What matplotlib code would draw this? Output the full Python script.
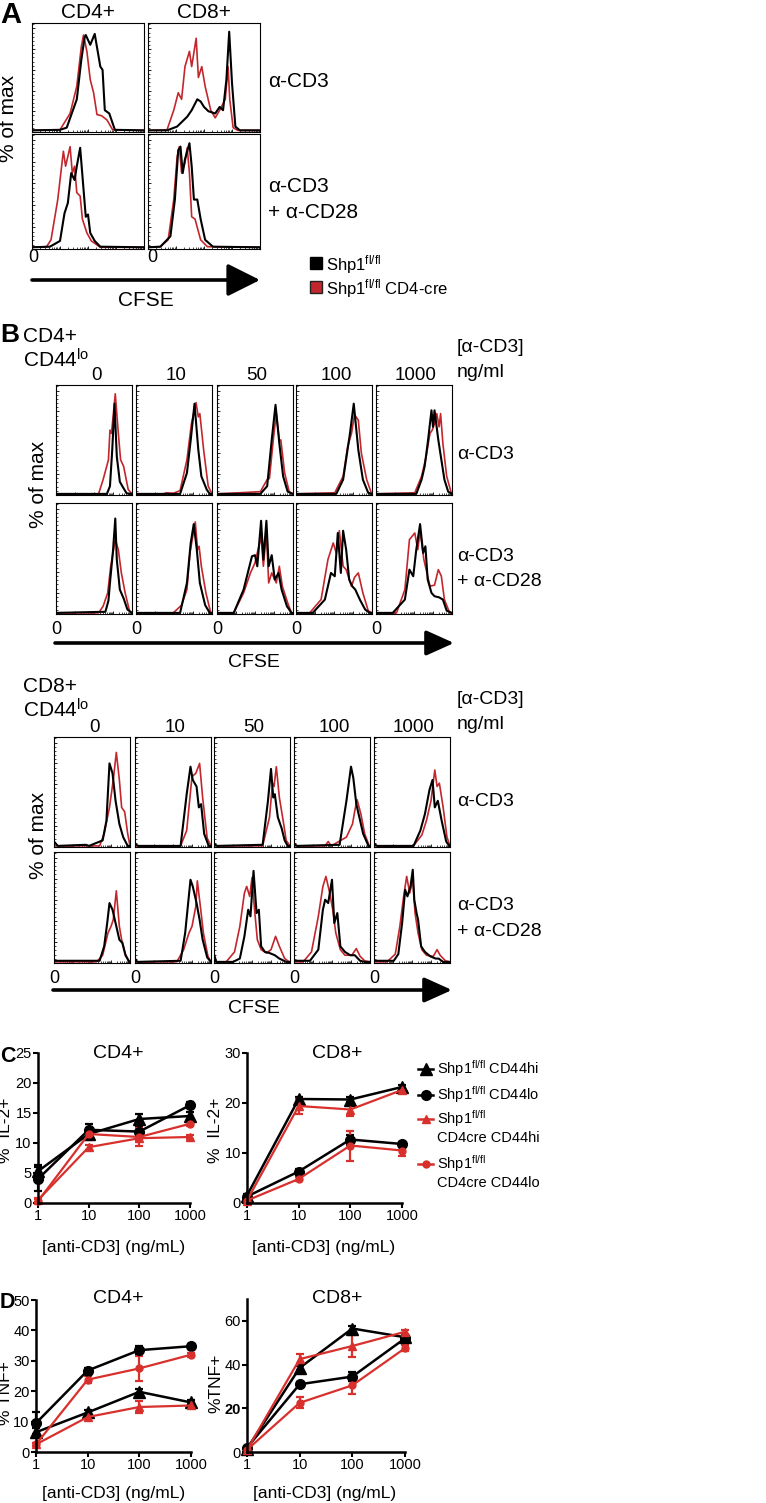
import matplotlib
matplotlib.use('Agg')
import matplotlib.pyplot as plt
from matplotlib.ticker import NullLocator, FixedLocator
from matplotlib.patches import Rectangle
from matplotlib.lines import Line2D
import numpy as np

NARROW = ['Liberation Sans', 'DejaVu Sans']
REG = ['Liberation Sans', 'DejaVu Sans']
plt.rcParams['font.family'] = NARROW
plt.rcParams['mathtext.default'] = 'regular'

W, H = 766, 1503
RED_H = '#c2272d'
RED_L = '#d8302c'

# ---------------- data: histograms (x = CFSE axis fraction, y = % of max fraction) -------------
# Panel A, order: CD4 a-CD3, CD8 a-CD3, CD4 a-CD3+a-CD28, CD8 a-CD3+a-CD28
A_black = [
    [(0,0.015),(0.25,0.02),(0.31,0.04),(0.40,0.30),(0.44,0.66),(0.47,0.87),(0.48,0.89),(0.52,0.80),(0.56,0.90),(0.61,0.60),(0.63,0.57),(0.65,0.20),(0.69,0.17),(0.74,0.02),(1,0.015)],
    [(0,0.015),(0.17,0.015),(0.26,0.05),(0.35,0.14),(0.39,0.20),(0.44,0.30),(0.47,0.28),(0.50,0.23),(0.54,0.19),(0.60,0.17),(0.64,0.23),(0.67,0.20),(0.70,0.48),(0.725,0.92),(0.75,0.45),(0.78,0.05),(0.82,0.015),(1,0.015)],
    [(0,0.015),(0.16,0.02),(0.25,0.07),(0.29,0.31),(0.32,0.40),(0.35,0.66),(0.38,0.60),(0.40,0.72),(0.43,0.88),(0.46,0.52),(0.48,0.28),(0.50,0.30),(0.52,0.14),(0.56,0.07),(0.61,0.02),(1,0.015)],
    [(0,0.015),(0.11,0.02),(0.20,0.11),(0.24,0.43),(0.27,0.86),(0.29,0.89),(0.31,0.66),(0.33,0.78),(0.37,0.92),(0.39,0.72),(0.41,0.43),(0.44,0.43),(0.47,0.26),(0.51,0.08),(0.58,0.02),(1,0.015)],
]
A_red = [
    [(0,0.015),(0.25,0.02),(0.34,0.17),(0.40,0.42),(0.44,0.78),(0.46,0.89),(0.49,0.74),(0.52,0.48),(0.55,0.36),(0.58,0.16),(0.62,0.15),(0.67,0.11),(0.72,0.02),(1,0.015)],
    [(0,0.015),(0.17,0.02),(0.23,0.20),(0.27,0.36),(0.30,0.30),(0.33,0.60),(0.37,0.74),(0.39,0.60),(0.43,0.86),(0.45,0.50),(0.48,0.60),(0.51,0.42),(0.56,0.20),(0.60,0.13),(0.64,0.20),(0.69,0.30),(0.715,0.60),(0.73,0.30),(0.76,0.04),(0.80,0.015),(1,0.015)],
    [(0,0.015),(0.13,0.02),(0.17,0.08),(0.23,0.43),(0.28,0.85),(0.30,0.72),(0.34,0.89),(0.36,0.66),(0.38,0.72),(0.40,0.49),(0.43,0.46),(0.45,0.26),(0.49,0.14),(0.53,0.07),(0.61,0.015),(1,0.015)],
    [(0,0.015),(0.11,0.02),(0.18,0.08),(0.23,0.43),(0.26,0.80),(0.28,0.89),(0.30,0.66),(0.33,0.75),(0.35,0.88),(0.37,0.66),(0.39,0.28),(0.42,0.26),(0.47,0.08),(0.53,0.02),(1,0.015)],
]

# Panel B CD4+ CD44lo, row-major: a-CD3 (0,10,50,100,1000), then a-CD3+a-CD28
B4_black = [
    [(0,0.01),(0.67,0.01),(0.71,0.08),(0.74,0.41),(0.77,0.83),(0.80,0.35),(0.84,0.12),(0.89,0.06),(0.93,0.015),(1,0.01)],
    [(0,0.01),(0.58,0.01),(0.67,0.20),(0.72,0.50),(0.77,0.83),(0.82,0.41),(0.86,0.17),(0.93,0.05),(0.97,0.01),(1,0.01)],
    [(0,0.01),(0.57,0.01),(0.66,0.08),(0.72,0.50),(0.77,0.82),(0.82,0.47),(0.87,0.17),(0.93,0.03),(1,0.01)],
    [(0,0.01),(0.53,0.01),(0.62,0.14),(0.71,0.56),(0.76,0.83),(0.82,0.41),(0.88,0.14),(0.95,0.02),(1,0.01)],
    [(0,0.01),(0.53,0.01),(0.60,0.14),(0.64,0.26),(0.68,0.47),(0.73,0.77),(0.75,0.62),(0.77,0.77),(0.82,0.50),(0.86,0.32),(0.90,0.14),(0.95,0.03),(1,0.01)],
    [(0,0.01),(0.65,0.02),(0.69,0.12),(0.71,0.28),(0.75,0.57),(0.78,0.86),(0.80,0.49),(0.84,0.22),(0.89,0.14),(0.94,0.04),(1,0.01)],
    [(0,0.01),(0.58,0.01),(0.67,0.28),(0.72,0.64),(0.76,0.81),(0.80,0.58),(0.84,0.28),(0.91,0.08),(0.97,0.01),(1,0.01)],
    [(0,0.01),(0.22,0.01),(0.35,0.22),(0.46,0.52),(0.50,0.53),(0.53,0.43),(0.58,0.84),(0.61,0.49),(0.65,0.84),(0.68,0.43),(0.72,0.53),(0.76,0.31),(0.81,0.37),(0.85,0.22),(0.92,0.07),(0.98,0.01),(1,0.01)],
    [(0,0.01),(0.22,0.01),(0.38,0.13),(0.46,0.37),(0.51,0.34),(0.55,0.73),(0.59,0.37),(0.62,0.75),(0.66,0.58),(0.70,0.31),(0.74,0.25),(0.78,0.22),(0.84,0.13),(0.91,0.04),(0.97,0.01),(1,0.01)],
    [(0,0.01),(0.22,0.01),(0.38,0.13),(0.44,0.40),(0.49,0.34),(0.53,0.58),(0.58,0.81),(0.62,0.55),(0.65,0.61),(0.68,0.31),(0.73,0.19),(0.77,0.16),(0.83,0.15),(0.88,0.13),(0.93,0.03),(1,0.01)],
]
B4_red = [
    [(0,0.01),(0.56,0.01),(0.62,0.14),(0.69,0.32),(0.71,0.59),(0.73,0.56),(0.78,0.92),(0.82,0.56),(0.85,0.32),(0.89,0.26),(0.95,0.05),(1,0.01)],
    [(0,0.01),(0.36,0.01),(0.40,0.02),(0.49,0.015),(0.58,0.04),(0.67,0.32),(0.73,0.65),(0.79,0.84),(0.82,0.71),(0.84,0.74),(0.89,0.41),(0.95,0.08),(1,0.01)],
    [(0,0.01),(0.57,0.03),(0.66,0.14),(0.69,0.15),(0.74,0.50),(0.78,0.74),(0.82,0.50),(0.84,0.50),(0.89,0.20),(0.95,0.03),(1,0.01)],
    [(0,0.01),(0.51,0.02),(0.62,0.17),(0.68,0.44),(0.73,0.56),(0.77,0.73),(0.82,0.68),(0.86,0.38),(0.93,0.14),(0.99,0.02),(1,0.01)],
    [(0,0.01),(0.51,0.02),(0.60,0.17),(0.66,0.35),(0.71,0.56),(0.74,0.59),(0.77,0.65),(0.80,0.74),(0.83,0.62),(0.85,0.74),(0.88,0.47),(0.93,0.17),(0.99,0.02),(1,0.01)],
    [(0,0.01),(0.56,0.01),(0.62,0.07),(0.68,0.19),(0.72,0.43),(0.78,0.67),(0.82,0.58),(0.86,0.37),(0.91,0.19),(0.97,0.02),(1,0.01)],
    [(0,0.01),(0.49,0.01),(0.60,0.08),(0.67,0.22),(0.71,0.55),(0.78,0.83),(0.81,0.58),(0.83,0.61),(0.86,0.43),(0.92,0.19),(0.98,0.02),(1,0.01)],
    [(0,0.01),(0.22,0.01),(0.35,0.19),(0.44,0.37),(0.50,0.46),(0.55,0.61),(0.58,0.70),(0.61,0.43),(0.65,0.73),(0.68,0.28),(0.72,0.37),(0.78,0.28),(0.82,0.43),(0.86,0.25),(0.93,0.10),(0.98,0.01),(1,0.01)],
    [(0,0.01),(0.18,0.01),(0.33,0.13),(0.42,0.49),(0.49,0.64),(0.53,0.55),(0.57,0.75),(0.62,0.43),(0.66,0.40),(0.73,0.25),(0.77,0.33),(0.82,0.37),(0.88,0.19),(0.95,0.03),(1,0.01)],
    [(0,0.01),(0.27,0.01),(0.38,0.22),(0.44,0.67),(0.51,0.73),(0.55,0.58),(0.58,0.75),(0.63,0.49),(0.67,0.37),(0.71,0.25),(0.77,0.26),(0.82,0.40),(0.86,0.34),(0.90,0.13),(0.97,0.01),(1,0.01)],
]

# Panel B CD8+ CD44lo
B8_black = [
    [(0,0.05),(0.05,0.01),(0.42,0.02),(0.46,0.01),(0.64,0.06),(0.69,0.24),(0.73,0.76),(0.77,0.67),(0.81,0.42),(0.86,0.21),(0.91,0.09),(0.97,0.01),(1,0.01)],
    [(0,0.03),(0.04,0.01),(0.60,0.01),(0.68,0.48),(0.73,0.73),(0.76,0.61),(0.81,0.55),(0.84,0.36),(0.87,0.39),(0.91,0.12),(0.97,0.01),(1,0.01)],
    [(0,0.03),(0.04,0.01),(0.64,0.02),(0.71,0.42),(0.75,0.71),(0.78,0.45),(0.80,0.48),(0.84,0.27),(0.89,0.17),(0.93,0.06),(0.97,0.01),(1,0.01)],
    [(0,0.03),(0.04,0.01),(0.60,0.02),(0.69,0.42),(0.75,0.73),(0.78,0.63),(0.82,0.39),(0.86,0.27),(0.91,0.12),(0.98,0.01),(1,0.01)],
    [(0,0.03),(0.04,0.01),(0.52,0.01),(0.61,0.15),(0.67,0.30),(0.73,0.52),(0.77,0.61),(0.80,0.36),(0.84,0.42),(0.89,0.24),(0.95,0.05),(0.99,0.01),(1,0.01)],
    [(0,0.02),(0.60,0.02),(0.66,0.15),(0.70,0.36),(0.73,0.54),(0.77,0.48),(0.82,0.33),(0.86,0.21),(0.90,0.18),(0.94,0.07),(0.99,0.01),(1,0.01)],
    [(0,0.04),(0.03,0.01),(0.60,0.02),(0.66,0.27),(0.73,0.75),(0.76,0.69),(0.81,0.54),(0.85,0.39),(0.89,0.21),(0.95,0.05),(1,0.01)],
    [(0,0.08),(0.03,0.01),(0.25,0.01),(0.34,0.04),(0.40,0.24),(0.45,0.48),(0.48,0.42),(0.52,0.83),(0.56,0.45),(0.59,0.48),(0.62,0.15),(0.67,0.10),(0.73,0.09),(0.80,0.07),(0.86,0.04),(0.95,0.01),(1,0.01)],
    [(0,0.02),(0.21,0.02),(0.32,0.12),(0.38,0.48),(0.41,0.57),(0.45,0.54),(0.50,0.75),(0.53,0.36),(0.57,0.45),(0.61,0.15),(0.67,0.10),(0.74,0.07),(0.80,0.07),(0.87,0.02),(0.93,0.01),(1,0.01)],
    [(0,0.02),(0.26,0.02),(0.32,0.08),(0.37,0.36),(0.41,0.66),(0.44,0.60),(0.48,0.69),(0.51,0.84),(0.53,0.57),(0.56,0.45),(0.58,0.39),(0.62,0.15),(0.67,0.10),(0.74,0.06),(0.81,0.04),(0.85,0.04),(0.91,0.01),(1,0.01)],
]
B8_red = [
    [(0,0.01),(0.60,0.01),(0.66,0.12),(0.73,0.36),(0.78,0.61),(0.82,0.86),(0.86,0.61),(0.89,0.36),(0.93,0.32),(0.97,0.12),(1,0.01)],
    [(0,0.01),(0.60,0.01),(0.68,0.15),(0.75,0.64),(0.80,0.67),(0.85,0.76),(0.89,0.45),(0.95,0.08),(1,0.01)],
    [(0,0.01),(0.64,0.01),(0.73,0.27),(0.77,0.58),(0.79,0.55),(0.82,0.73),(0.86,0.45),(0.91,0.24),(0.95,0.06),(1,0.01)],
    [(0,0.01),(0.41,0.01),(0.45,0.05),(0.49,0.01),(0.69,0.09),(0.77,0.21),(0.80,0.33),(0.83,0.43),(0.88,0.30),(0.93,0.12),(0.99,0.01),(1,0.01)],
    [(0,0.01),(0.52,0.01),(0.63,0.11),(0.69,0.24),(0.75,0.42),(0.80,0.70),(0.83,0.55),(0.86,0.58),(0.91,0.36),(0.96,0.09),(1,0.01)],
    [(0,0.01),(0.56,0.01),(0.64,0.07),(0.71,0.27),(0.75,0.33),(0.78,0.39),(0.82,0.65),(0.86,0.33),(0.89,0.21),(0.94,0.08),(0.99,0.01),(1,0.01)],
    [(0,0.01),(0.55,0.01),(0.64,0.12),(0.71,0.27),(0.75,0.33),(0.80,0.51),(0.82,0.74),(0.86,0.51),(0.90,0.27),(0.96,0.06),(1,0.01)],
    [(0,0.01),(0.16,0.01),(0.27,0.10),(0.34,0.33),(0.40,0.63),(0.43,0.69),(0.47,0.60),(0.50,0.77),(0.53,0.51),(0.57,0.21),(0.62,0.12),(0.69,0.09),(0.75,0.12),(0.81,0.24),(0.86,0.15),(0.93,0.04),(0.99,0.01),(1,0.01)],
    [(0,0.01),(0.12,0.01),(0.23,0.10),(0.32,0.42),(0.38,0.69),(0.42,0.78),(0.47,0.63),(0.51,0.48),(0.55,0.27),(0.61,0.12),(0.67,0.07),(0.76,0.07),(0.82,0.13),(0.87,0.06),(0.93,0.02),(1,0.01)],
    [(0,0.01),(0.17,0.01),(0.28,0.08),(0.34,0.33),(0.39,0.60),(0.43,0.78),(0.47,0.63),(0.51,0.75),(0.54,0.45),(0.58,0.27),(0.63,0.12),(0.69,0.07),(0.78,0.06),(0.83,0.12),(0.87,0.07),(0.94,0.02),(1,0.01)],
]

conc_labels = ['0', '10', '50', '100', '1000']

# ---------------- data: cytokine line plots -------------
dose = [1, 10, 100, 1000]
il2_cd4_fl_hi = [5.3, 11.5, 14.0, 14.5];  il2_cd4_fl_hi_err = [1.0, 0.8, 0.8, 0.6]
il2_cd4_fl_lo = [4.0, 12.2, 11.9, 16.3];  il2_cd4_fl_lo_err = [2.0, 1.0, 1.0, 0.5]
il2_cd4_cre_hi = [0.5, 9.3, 10.8, 11.0];  il2_cd4_cre_hi_err = [0.3, 0.4, 0.5, 0.3]
il2_cd4_cre_lo = [0.3, 11.5, 11.0, 13.2]; il2_cd4_cre_lo_err = [0.3, 1.0, 1.5, 0.4]

il2_cd8_fl_hi = [1.5, 20.8, 20.7, 23.2];  il2_cd8_fl_hi_err = [0.4, 0.5, 0.5, 0.5]
il2_cd8_fl_lo = [1.3, 6.3, 12.7, 11.8];   il2_cd8_fl_lo_err = [0.3, 0.6, 1.0, 0.5]
il2_cd8_cre_hi = [0.5, 19.4, 18.7, 22.6]; il2_cd8_cre_hi_err = [0.2, 1.5, 1.3, 0.3]
il2_cd8_cre_lo = [0.5, 4.8, 11.5, 10.5];  il2_cd8_cre_lo_err = [0.2, 0.4, 3.0, 1.0]

tnf_cd4_fl_hi = [6.5, 13.0, 19.8, 16.3];  tnf_cd4_fl_hi_err = [1.5, 0.8, 1.0, 0.8]
tnf_cd4_fl_lo = [9.5, 26.8, 33.5, 34.8];  tnf_cd4_fl_lo_err = [3.5, 0.8, 1.5, 0.8]
tnf_cd4_cre_hi = [2.5, 11.5, 14.8, 15.3]; tnf_cd4_cre_hi_err = [0.5, 0.8, 2.0, 0.5]
tnf_cd4_cre_lo = [2.5, 23.8, 27.5, 32.0]; tnf_cd4_cre_lo_err = [0.5, 1.2, 4.0, 0.6]

tnf_cd8_fl_hi = [1.5, 38.5, 56.5, 52.5];  tnf_cd8_fl_hi_err = [0.5, 1.0, 1.0, 1.0]
tnf_cd8_fl_lo = [2.0, 31.0, 34.5, 52.0];  tnf_cd8_fl_lo_err = [0.5, 1.0, 2.0, 1.0]
tnf_cd8_cre_hi = [1.0, 42.5, 48.5, 55.0]; tnf_cd8_cre_hi_err = [0.5, 2.5, 5.0, 1.0]
tnf_cd8_cre_lo = [1.0, 22.5, 30.5, 47.5]; tnf_cd8_cre_lo_err = [0.5, 2.5, 4.0, 1.5]

# ---------------- figure -------------
fig = plt.figure(figsize=(W / 100, H / 100), dpi=100)


def add_ax(x0, y0, x1, y1):
    return fig.add_axes([x0 / W, 1 - y1 / H, (x1 - x0) / W, (y1 - y0) / H])


log_minor = [(d + np.log10(k)) / 4 for d in range(4) for k in range(2, 10)]


def hist_ax(rect, black, red):
    ax = add_ax(*rect)
    rx, ry = zip(*red)
    bx, by = zip(*black)
    ax.plot(rx, ry, color=RED_H, lw=1.2, solid_joinstyle='round')
    ax.plot(bx, by, color='black', lw=1.5, solid_joinstyle='round')
    ax.set_xlim(0, 1)
    ax.set_ylim(0, 1)
    for s in ax.spines.values():
        s.set_linewidth(0.8)
    ax.xaxis.set_major_locator(FixedLocator([0, 0.25, 0.5, 0.75, 1.0]))
    ax.xaxis.set_minor_locator(FixedLocator(log_minor))
    ax.yaxis.set_major_locator(FixedLocator(np.arange(0, 1.0, 0.19)))
    ax.yaxis.set_minor_locator(FixedLocator(np.arange(0, 1.0, 0.038)))
    ax.tick_params(which='major', direction='in', length=2.5, width=0.6,
                   labelbottom=False, labelleft=False)
    ax.tick_params(which='minor', direction='in', length=1.2, width=0.5)
    return ax


# Panel A histograms
A_cols = [(32, 144), (148, 260)]
A_rows = [(23, 132), (134, 249)]
k = 0
for r in A_rows:
    for c in A_cols:
        hist_ax((c[0], r[0], c[1], r[1]), A_black[k], A_red[k])
        k += 1

# Panel B histograms
B4_cols = [(56, 132), (136, 212), (217, 293), (296, 372), (376, 452)]
B4_rows = [(385, 495), (503, 614)]
B8_cols = [(54, 130), (135, 211), (214, 290), (294, 370), (374, 450)]
B8_rows = [(737, 847), (852, 963)]
for cols, rows, blk, red in [(B4_cols, B4_rows, B4_black, B4_red),
                             (B8_cols, B8_rows, B8_black, B8_red)]:
    k = 0
    for r in rows:
        for c in cols:
            hist_ax((c[0], r[0], c[1], r[1]), blk[k], red[k])
            k += 1


# Line plots
def line_ax(rect, ymax, yticks, series):
    ax = add_ax(*rect)
    ax.set_xscale('log')
    ax.set_xlim(1, 1000)
    ax.set_ylim(0, ymax)
    for side in ['top', 'right']:
        ax.spines[side].set_visible(False)
    for side in ['left', 'bottom']:
        ax.spines[side].set_linewidth(1.8)
    ax.xaxis.set_major_locator(FixedLocator(dose))
    ax.set_xticklabels([str(d) for d in dose])
    ax.xaxis.set_minor_locator(NullLocator())
    ax.set_yticks(yticks)
    ax.set_yticklabels([str(t) for t in yticks])
    ax.tick_params(direction='out', length=3.5, width=1.5, labelsize=10.5, pad=1)
    for y, e, color, marker, ms, lw in series:
        cont = ax.errorbar(dose, y, yerr=e, color=color, marker=marker, ms=ms,
                           lw=lw, elinewidth=1.6, capsize=3, capthick=1.6,
                           mec=color, mfc=color)
        for ch in cont.get_children():
            ch.set_clip_on(False)
    return ax


def series_set(fl_hi, fl_hi_e, fl_lo, fl_lo_e, cre_hi, cre_hi_e, cre_lo, cre_lo_e):
    return [(fl_hi, fl_hi_e, 'black', '^', 8, 1.8),
            (fl_lo, fl_lo_e, 'black', 'o', 7, 1.8),
            (cre_hi, cre_hi_e, RED_L, '^', 5.5, 1.6),
            (cre_lo, cre_lo_e, RED_L, 'o', 5, 1.6)]


line_ax((38, 1053, 190, 1203), 25, [0, 5, 10, 15, 20, 25],
        series_set(il2_cd4_fl_hi, il2_cd4_fl_hi_err, il2_cd4_fl_lo, il2_cd4_fl_lo_err,
                   il2_cd4_cre_hi, il2_cd4_cre_hi_err, il2_cd4_cre_lo, il2_cd4_cre_lo_err))
line_ax((247, 1053, 402, 1203), 30, [0, 10, 20, 30],
        series_set(il2_cd8_fl_hi, il2_cd8_fl_hi_err, il2_cd8_fl_lo, il2_cd8_fl_lo_err,
                   il2_cd8_cre_hi, il2_cd8_cre_hi_err, il2_cd8_cre_lo, il2_cd8_cre_lo_err))
line_ax((36, 1300, 191, 1452), 50, [0, 10, 20, 30, 40, 50],
        series_set(tnf_cd4_fl_hi, tnf_cd4_fl_hi_err, tnf_cd4_fl_lo, tnf_cd4_fl_lo_err,
                   tnf_cd4_cre_hi, tnf_cd4_cre_hi_err, tnf_cd4_cre_lo, tnf_cd4_cre_lo_err))
axD2 = line_ax((247, 1299, 405, 1452), 70, [0, 20, 40, 60],
               series_set(tnf_cd8_fl_hi, tnf_cd8_fl_hi_err, tnf_cd8_fl_lo, tnf_cd8_fl_lo_err,
                          tnf_cd8_cre_hi, tnf_cd8_cre_hi_err, tnf_cd8_cre_lo, tnf_cd8_cre_lo_err))
axD2.get_yticklabels()[1].set_fontweight('bold')

# ---------------- overlay for text, arrows, legends (pixel coordinates) -------------
ov = fig.add_axes([0, 0, 1, 1], facecolor='none')
ov.set_xlim(0, W)
ov.set_ylim(H, 0)
ov.axis('off')


def txt(x, y, s, size, ha='left', va='baseline', family=None, weight='normal', rot=0):
    ov.text(x, y, s, fontsize=size, ha=ha, va=va, family=family or NARROW,
            fontweight=weight, rotation=rot)


def arrow(x0, x1, y, lw, hl, hw, ms):
    ov.annotate('', xy=(x1, y), xytext=(x0, y),
                arrowprops=dict(arrowstyle='-|>,head_length=%g,head_width=%g' % (hl, hw),
                                color='black', lw=lw, shrinkA=0, shrinkB=0,
                                mutation_scale=ms))


SUP = r'$^{fl/fl}$'

# Panel A
txt(0, 23, 'A', 21, family=REG, weight='bold')
txt(88, 18, 'CD4+', 15, ha='center', family=REG)
txt(204, 18, 'CD8+', 15, ha='center', family=REG)
txt(9, 118, '% of max', 15, ha='center', va='center', family=REG, rot=90)
txt(268, 87, 'α-CD3', 15, family=REG)
txt(268, 192, 'α-CD3', 15, family=REG)
txt(268, 218, '+ α-CD28', 15, family=REG)
txt(33, 262, '0', 13, ha='center', family=REG)
txt(152, 262, '0', 13, ha='center', family=REG)
arrow(32, 260, 280, 2.6, 1.0, 0.5, 20)
txt(146, 306, 'CFSE', 15, ha='center', family=REG)
ov.add_patch(Rectangle((310, 257), 12, 12, facecolor='black', edgecolor='black', lw=1))
ov.add_patch(Rectangle((310, 281), 12, 12, facecolor=RED_H, edgecolor='#222222', lw=1))
txt(326, 270, 'Shp1' + SUP, 12, family=REG)
txt(326, 294, 'Shp1' + SUP + ' CD4-cre', 12, family=REG)

# Panel B
txt(0, 342, 'B', 19, family=REG, weight='bold')
for (cols, top_y, cell_y0, cell_y1, arrow_y, cfse_y, tb) in [
        (B4_cols, 342, 385, 614, 643, 667, 0),
        (B8_cols, 692, 737, 963, 990, 1013, 1)]:
    base = top_y
    txt(23, base, 'CD4+' if tb == 0 else 'CD8+', 15)
    txt(23, base + 26, r'CD44$^{lo}$', 15)
    for i, c in enumerate(cols):
        txt((c[0] + c[1]) / 2 + 2, cell_y0 - 5, conc_labels[i], 13.5, ha='center')
        txt(c[0], cell_y1 + 20, '0', 13, ha='center')
    txt(457, cell_y0 - 33, '[α-CD3]', 14)
    txt(457, cell_y0 - 8, 'ng/ml', 14)
    mid1 = (cell_y0 + (cell_y0 + cell_y1) / 2) / 2
    txt(457, mid1 + 17 if tb == 0 else mid1 + 13, 'α-CD3', 14)
    r2 = (cell_y1 + (cell_y0 + cell_y1) / 2) / 2
    txt(457, r2 + 4, 'α-CD3', 14)
    txt(457, r2 + 29, '+ α-CD28', 14)
    txt(38, (cell_y0 + cell_y1) / 2 - 15, '% of max', 15, ha='center', va='center', rot=90)
    arrow(cols[0][0] - 1, cols[-1][1] + 2, arrow_y, 2.6, 1.0, 0.45, 17)
    txt(254, cfse_y, 'CFSE', 14, ha='center')

# Panel C
txt(0, 1062, 'C', 15.5, family=REG, weight='bold')
txt(118, 1058, 'CD4+', 14, ha='center')
txt(337, 1058, 'CD8+', 14, ha='center')
txt(6, 1130, '%  IL-2+', 12.5, ha='center', va='center', rot=90)
txt(216, 1130, '%  IL-2+', 12.5, ha='center', va='center', rot=90)
txt(114, 1252, '[anti-CD3] (ng/mL)', 12.5, ha='center')
txt(324, 1252, '[anti-CD3] (ng/mL)', 12.5, ha='center')

# legend (Panel C)
leg_rows = [(1069, 'black', '^', 8, ['Shp1' + SUP + ' CD44hi']),
            (1095, 'black', 'o', 7, ['Shp1' + SUP + ' CD44lo']),
            (1119, RED_L, '^', 5.5, ['Shp1' + SUP, 'CD4cre CD44hi']),
            (1164, RED_L, 'o', 5, ['Shp1' + SUP, 'CD4cre CD44lo'])]
for y, col, mk, ms, lines in leg_rows:
    ov.add_line(Line2D([418, 433], [y, y], color=col, lw=1.8))
    ov.add_line(Line2D([425.5], [y], color=col, marker=mk, ms=ms, mfc=col, mec=col))
    for j, s in enumerate(lines):
        txt(437, y + 5 + 18 * j, s, 10.5)

# Panel D
txt(0, 1308, 'D', 15.5, family=REG, weight='bold')
txt(118, 1303, 'CD4+', 14, ha='center')
txt(337, 1303, 'CD8+', 14, ha='center')
txt(6, 1393, '% TNF+', 12.5, ha='center', va='center', rot=90)
txt(216, 1383, '%TNF+', 12.5, ha='center', va='center', rot=90)
txt(114, 1498, '[anti-CD3] (ng/mL)', 12.5, ha='center')
txt(325, 1498, '[anti-CD3] (ng/mL)', 12.5, ha='center')

fig.savefig('out.png', dpi=100)
